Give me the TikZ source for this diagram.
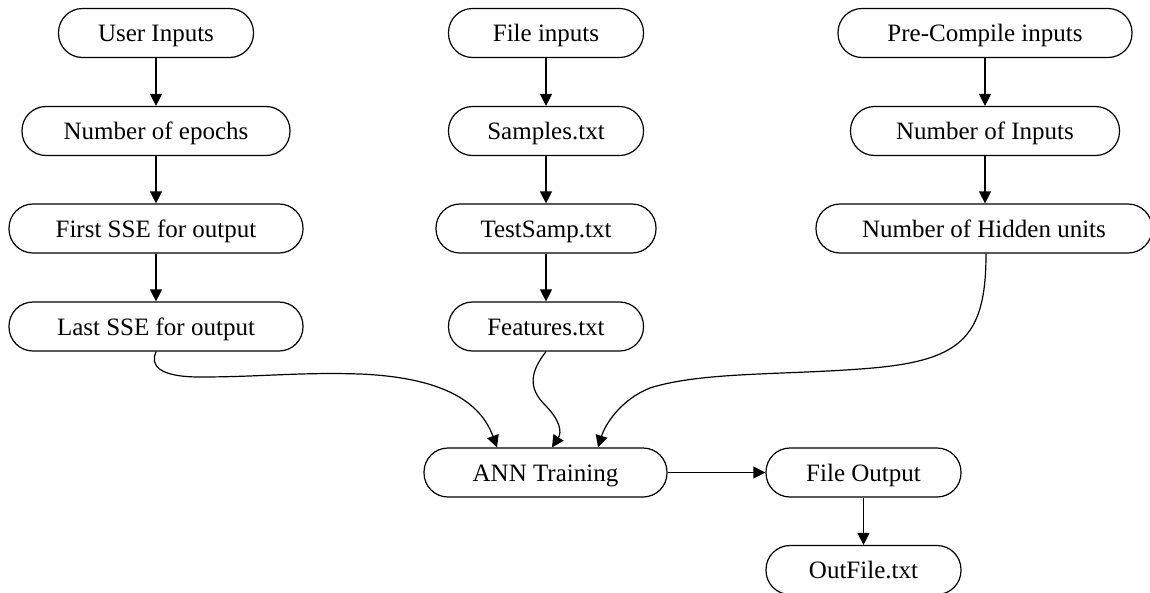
\documentclass[tikz,border=0pt]{standalone}
\usepackage{fontspec}
\setmainfont{Liberation Serif}
\usetikzlibrary{arrows.meta}
\begin{document}
\begin{tikzpicture}[x=1pt, y=-1pt,
  box/.style={draw, line width=1.2pt, rounded corners=24pt, minimum height=49pt,
    inner sep=0pt, text height=22pt, text depth=5pt,
    font=\fontsize{25}{30}\selectfont},
  link/.style={line width=1.2pt, -{Triangle[length=12pt,width=12pt]}}]
\useasboundingbox (0,0) rectangle (1150,592);

% user-supplied parameters
\node[box, minimum width=195pt] (ui)   at (156,33)    {User Inputs};
\node[box, minimum width=268pt] (ne)   at (156,131)   {Number of epochs};
\node[box, minimum width=294pt] (fsse) at (156,228.5) {First SSE for output};
\node[box, minimum width=294pt] (lsse) at (156,326.5) {Last SSE for output};

% data files
\node[box, minimum width=195pt] (fi) at (546,33)    {File inputs};
\node[box, minimum width=195pt] (st) at (546,131)   {Samples.txt};
\node[box, minimum width=220pt] (ts) at (546,228.5) {TestSamp.txt};
\node[box, minimum width=195pt] (ft) at (546,326.5) {Features.txt};

% compile-time constants
\node[box, minimum width=294pt] (pci) at (985,33)    {Pre-Compile inputs};
\node[box, minimum width=269pt] (noi) at (985,131)   {Number of Inputs};
\node[box, minimum width=336pt] (nhu) at (984,228.5) {Number of Hidden units};

% training and output
\node[box, minimum width=243pt] (ann) at (545.5,472.5) {ANN Training};
\node[box, minimum width=195pt] (fo)  at (863.5,472.5) {File Output};
\node[box, minimum width=195pt] (of)  at (863.5,570)   {OutFile.txt};

% entry points on top of the training node
\coordinate (inA) at ([xshift=-48.5pt]ann.north);
\coordinate (inB) at ([xshift=6.5pt]ann.north);
\coordinate (inC) at ([xshift=52.5pt]ann.north);
\coordinate (outC) at ([xshift=2pt]nhu.south);

\draw[link] (ui) -- (ne);
\draw[link] (ne) -- (fsse);
\draw[link] (fsse) -- (lsse);
\draw[link] (fi) -- (st);
\draw[link] (st) -- (ts);
\draw[link] (ts) -- (ft);
\draw[link] (pci) -- (noi);
\draw[link] (noi.south) -- (noi.south |- nhu.north);

\draw[link] (lsse.south) .. controls (150,365) and (158,377) .. (200,377)
  .. controls (260,377) and (300,372) .. (360,374)
  .. controls (430,377) and (478,395) .. (inA);
\draw[link] (ft.south) .. controls (530,372) and (528,388) .. (545,405)
  .. controls (560,420) and (562,432) .. (inB);
\draw[link] (outC) .. controls (986,340) and (960,362) .. (860,369)
  .. controls (780,375) and (700,372) .. (650,388)
  .. controls (620,400) and (605,425) .. (inC);

\draw[link] (ann) -- (fo);
\draw[link] (fo) -- (of);
\end{tikzpicture}
\end{document}
